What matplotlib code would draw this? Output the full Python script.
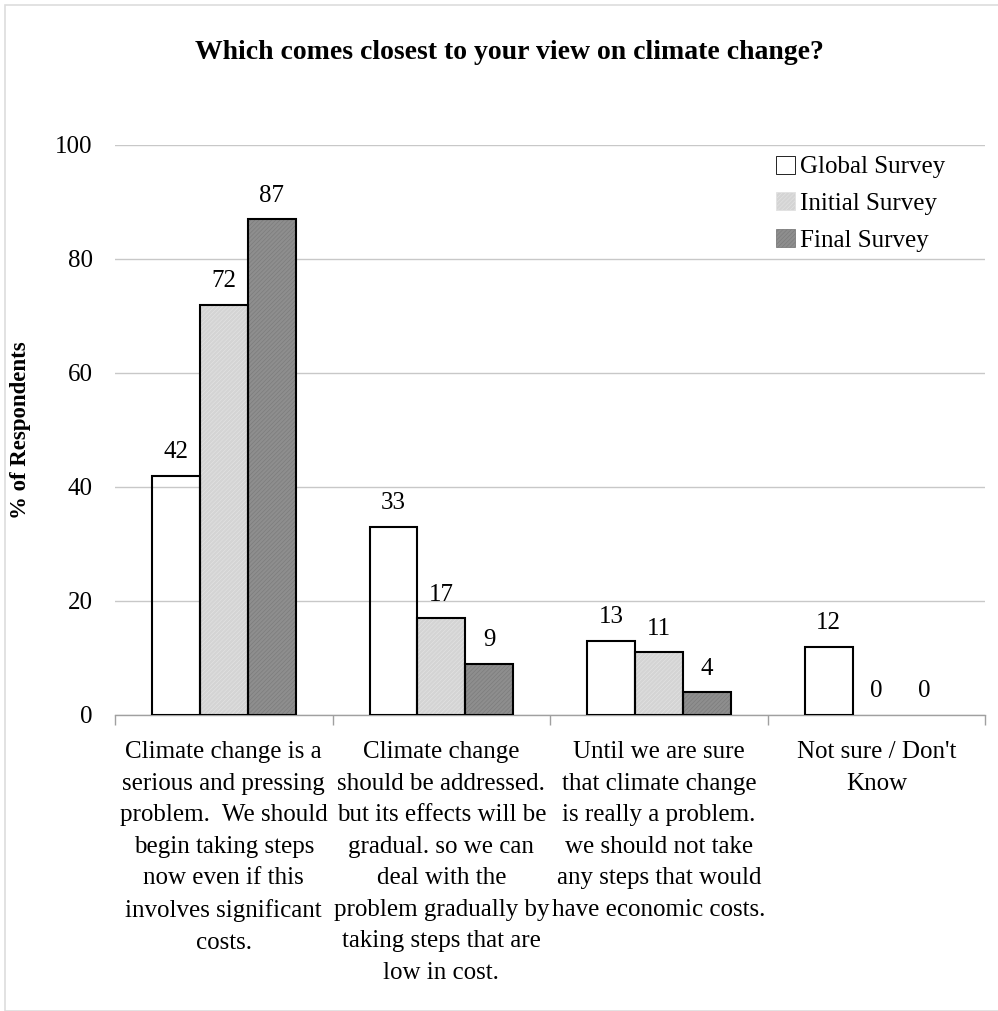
import matplotlib
matplotlib.use("Agg")
import matplotlib.pyplot as plt
import numpy as np
from matplotlib.patches import Rectangle, Patch

plt.rcParams['font.family'] = ['Liberation Serif', 'DejaVu Serif']
plt.rcParams['hatch.linewidth'] = 0.5

categories = [
    "Climate change is a\nserious and pressing\nproblem.  We should\nbegin taking steps\nnow even if this\ninvolves significant\ncosts.",
    "Climate change\nshould be addressed.\nbut its effects will be\ngradual. so we can\ndeal with the\nproblem gradually by\ntaking steps that are\nlow in cost.",
    "Until we are sure\nthat climate change\nis really a problem.\nwe should not take\nany steps that would\nhave economic costs.",
    "Not sure / Don't\nKnow",
]
series_names = ["Global Survey", "Initial Survey", "Final Survey"]
global_survey = [42, 33, 13, 12]
initial_survey = [72, 17, 11, 0]
final_survey = [87, 9, 4, 0]
yticks = [0, 20, 40, 60, 80, 100]

fills = ["white", "#d4d4d4", "#8e8e8e"]
hatch_cols = [None, "#e2e2e2", "#7c7c7c"]

fig = plt.figure(figsize=(9.98, 10.11), dpi=100)
fig.patches.append(Rectangle((0.005, 0.0), 0.997, 0.995, transform=fig.transFigure,
                             fill=False, edgecolor="#dddddd", linewidth=1.2))
ax = fig.add_axes([0.1152, 0.2928, 0.872, 0.5638])

x = np.arange(len(categories))
w = 0.22
series = [global_survey, initial_survey, final_survey]
for i, (vals, name) in enumerate(zip(series, series_names)):
    pos = x + (i - 1) * w
    if hatch_cols[i] is not None:
        ax.bar(pos, vals, w, color=fills[i], edgecolor=hatch_cols[i],
               hatch="////////", linewidth=0, zorder=2)
    bars = ax.bar(pos, vals, w, facecolor="none", edgecolor="black",
                  linewidth=1.5, zorder=3)
    for b, v in zip(bars, vals):
        if v == 0:
            b.set_linewidth(0)
    for p, v in zip(pos, vals):
        ax.annotate(str(v), (p, v), xytext=(0, 9), textcoords="offset points",
                    ha="center", va="bottom", fontsize=18)

ax.set_ylim(0, 100)
ax.set_xlim(-0.5, len(categories) - 0.5)
ax.set_yticks(yticks)
ax.set_yticklabels([str(t) for t in yticks], fontsize=18)
ax.yaxis.grid(True, color="#c8c8c8", linewidth=1)
ax.set_axisbelow(True)
ax.tick_params(axis="y", length=0, pad=16)
ax.set_xticks(np.arange(-0.5, len(categories), 1.0))
ax.set_xticklabels([])
ax.tick_params(axis="x", length=7, color="#a0a0a0", width=1, direction="out")
for s in ["left", "right", "top"]:
    ax.spines[s].set_visible(False)
ax.spines["bottom"].set_color("#a0a0a0")
ax.spines["bottom"].set_linewidth(1)

for xi, lab in zip(x, categories):
    ax.text(xi, -4.6, lab, ha="center", va="top", fontsize=18,
            linespacing=1.56, transform=ax.transData)

ax.set_ylabel("% of Respondents", fontsize=16.5, fontweight="bold")
ax.yaxis.set_label_coords(-0.097, 0.5)

fig.text(0.51, 0.948, "Which comes closest to your view on climate change?",
         ha="center", va="center", fontsize=20, fontweight="bold")

handles = [Patch(facecolor=fills[i], edgecolor="black" if i == 0 else hatch_cols[i],
                 hatch="////////" if i else None, linewidth=0.6)
           for i in range(3)]
leg = ax.legend(handles, series_names, loc="upper right", frameon=False,
                fontsize=18, handlelength=0.75, handleheight=0.75,
                handletextpad=0.2, labelspacing=0.55,
                bbox_to_anchor=(0.98, 1.021))

fig.savefig("out.png", dpi=100)
